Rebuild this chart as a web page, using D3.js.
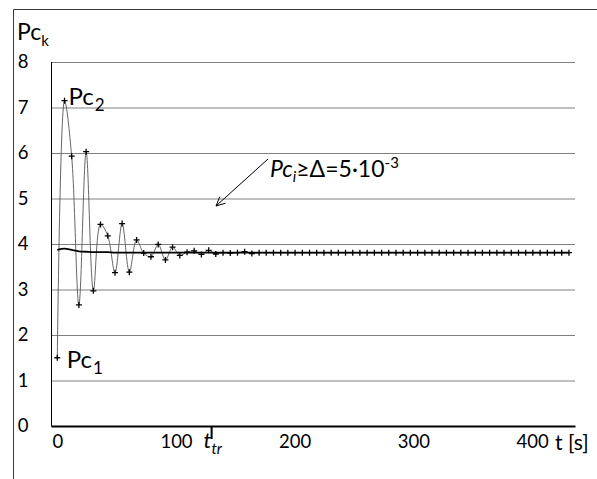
<!DOCTYPE html>
<html>
<head>
<meta charset="utf-8">
<script src="https://cdn.jsdelivr.net/npm/d3@7"></script>
<style>
  body { margin: 0; background: #fff; }
  svg { display: block; }
  text { font-family: Lato, "Open Sans", sans-serif; fill: #000; }
</style>
</head>
<body>
<svg id="chart" width="597" height="479"></svg>
<script>
// Sample times of the simulation (s)
const times = [
  0, 6.1, 12.1, 18.2, 24.3, 30.4, 36.4, 42.5, 48.6, 54.6,
  60.7, 66.8, 72.8, 78.9, 85.0, 91.1, 97.1, 103.2, 109.3, 115.3,
  121.4, 127.5, 133.5, 139.6, 145.7, 151.8, 157.8, 163.9, 170.0, 176.0,
  182.1, 188.2, 194.2, 200.3, 206.4, 212.5, 218.5, 224.6, 230.7, 236.7,
  242.8, 248.9, 254.9, 261.0, 267.1, 273.2, 279.2, 285.3, 291.4, 297.4,
  303.5, 309.6, 315.6, 321.7, 327.8, 333.9, 339.9, 346.0, 352.1, 358.1,
  364.2, 370.3, 376.3, 382.4, 388.5, 394.6, 400.6, 406.7, 412.8, 418.8,
  424.9, 431.0
];

// Pc_k at each sample
const pcValues = [
  1.50, 7.15, 5.93, 2.66, 6.03, 2.97, 4.43, 4.18, 3.37, 4.45,
  3.38, 4.09, 3.80, 3.72, 3.99, 3.65, 3.93, 3.75, 3.82, 3.85,
  3.77, 3.86, 3.78, 3.81, 3.80, 3.81, 3.83, 3.79, 3.81, 3.81,
  3.81, 3.81, 3.81, 3.81, 3.81, 3.81, 3.81, 3.81, 3.81, 3.81,
  3.81, 3.81, 3.81, 3.81, 3.81, 3.81, 3.81, 3.81, 3.81, 3.81,
  3.81, 3.81, 3.81, 3.81, 3.81, 3.81, 3.81, 3.81, 3.81, 3.81,
  3.81, 3.81, 3.81, 3.81, 3.81, 3.81, 3.81, 3.81, 3.81, 3.81,
  3.81, 3.81
];

// Smoothed level of Pc_k
const pcMean = [
  3.87, 3.90, 3.87, 3.84, 3.83, 3.82, 3.82, 3.82, 3.81, 3.81,
  3.81, 3.81, 3.81, 3.81, 3.81, 3.81, 3.81, 3.81, 3.81, 3.81,
  3.81, 3.81, 3.81, 3.81, 3.81, 3.81, 3.81, 3.81, 3.81, 3.81,
  3.81, 3.81, 3.81, 3.81, 3.81, 3.81, 3.81, 3.81, 3.81, 3.81,
  3.81, 3.81, 3.81, 3.81, 3.81, 3.81, 3.81, 3.81, 3.81, 3.81,
  3.81, 3.81, 3.81, 3.81, 3.81, 3.81, 3.81, 3.81, 3.81, 3.81,
  3.81, 3.81, 3.81, 3.81, 3.81, 3.81, 3.81, 3.81, 3.81, 3.81,
  3.81, 3.81
];

const yTicks = [0, 1, 2, 3, 4, 5, 6, 7, 8];
const xTicks = [0, 100, 200, 300, 400];
const tTransition = 130; // t_tr (s)

const svg = d3.select("#chart");
const W = 597, H = 479;
const plotL = 51, plotR = 575, plotT = 62, plotB = 426;

const x = d3.scaleLinear().domain([-5.3, 436.1]).range([plotL, plotR]);
const y = d3.scaleLinear().domain([0, 8]).range([plotB, plotT]);

svg.append("rect").attr("width", W).attr("height", H).attr("fill", "#fff");

// outer frame (left and top edges)
svg.append("path")
  .attr("d", `M13.5,${H} V9.5 H${W}`)
  .attr("fill", "none").attr("stroke", "#3a3a3a").attr("stroke-width", 1);

// horizontal grid + y labels
const yAxis = svg.append("g")
  .attr("transform", `translate(${plotL},0)`)
  .call(d3.axisLeft(y).tickValues(yTicks).tickSize(-(plotR - plotL)).tickPadding(22.5));
yAxis.select(".domain").remove();
yAxis.selectAll(".tick line").attr("stroke", "#808080").attr("stroke-width", 1);
yAxis.selectAll(".tick text")
  .attr("font-family", "Lato, sans-serif").attr("font-size", 18.5).attr("fill", "#000");

// left border of plot area
svg.append("line")
  .attr("x1", plotL + 0.5).attr("x2", plotL + 0.5)
  .attr("y1", plotT).attr("y2", plotB)
  .attr("stroke", "#000").attr("stroke-width", 1);

// x axis
const xAxis = svg.append("g")
  .attr("transform", `translate(0,${plotB})`)
  .call(d3.axisBottom(x).tickValues(xTicks).tickSize(0).tickPadding(9).tickSizeOuter(0));
xAxis.select(".domain").attr("stroke", "#000").attr("stroke-width", 2);
xAxis.selectAll(".tick text")
  .attr("font-family", "Lato, sans-serif").attr("font-size", 18.5).attr("fill", "#000");

// transition time marker
svg.append("line")
  .attr("x1", x(tTransition)).attr("x2", x(tTransition))
  .attr("y1", plotB).attr("y2", plotB + 13)
  .attr("stroke", "#000").attr("stroke-width", 2);
const ttr = svg.append("text")
  .attr("x", x(tTransition) - 8).attr("y", 448)
  .attr("font-size", 22).attr("font-style", "italic");
ttr.append("tspan").text("t");
ttr.append("tspan").attr("font-size", 15).attr("dy", 6).text("tr");

// axis titles
svg.append("text").attr("x", 555).attr("y", 450).attr("font-size", 21).text("t [s]");
const yTitle = svg.append("text").attr("x", 17).attr("y", 40).attr("font-size", 23);
yTitle.append("tspan").text("Pc");
yTitle.append("tspan").attr("font-size", 15).attr("dy", 6).text("k");

// series
const pts = times.map((t, i) => ({ t, v: pcValues[i], m: pcMean[i] }));

svg.append("path").datum(pts)
  .attr("fill", "none").attr("stroke", "#555").attr("stroke-width", 0.9)
  .attr("d", d3.line().x(d => x(d.t)).y(d => y(d.v)).curve(d3.curveCatmullRom.alpha(0.5)));

svg.append("path").datum(pts)
  .attr("fill", "none").attr("stroke", "#000").attr("stroke-width", 1.8)
  .attr("d", d3.line().x(d => x(d.t)).y(d => y(d.m)).curve(d3.curveCatmullRom.alpha(0.5)));

svg.append("g").selectAll("path").data(pts).join("path")
  .attr("transform", d => `translate(${x(d.t)},${y(d.v)})`)
  .attr("d", "M-3,0H3M0,-3V3")
  .attr("stroke", "#000").attr("stroke-width", 1.3);

// point labels
function pcLabel(i, sub, dx, dy) {
  const t = svg.append("text")
    .attr("x", x(times[i]) + dx).attr("y", y(pcValues[i]) + dy).attr("font-size", 24);
  t.append("tspan").text("Pc");
  t.append("tspan").attr("font-size", 17).attr("dy", 6).attr("dx", 1).text(sub);
}
pcLabel(1, "2", 4, 4);
pcLabel(0, "1", 9.5, 10);

// threshold annotation with arrow
const ann = svg.append("text").attr("x", 270).attr("y", 177).attr("font-size", 23);
ann.append("tspan").attr("font-style", "italic").text("Pc");
ann.append("tspan").attr("font-style", "italic").attr("font-size", 15).attr("dy", 5).text("i");
ann.append("tspan").attr("dy", -5).text("≥Δ=5·10");
ann.append("tspan").attr("font-size", 15).attr("dy", -9).text("-3");

const a0 = [268, 159], a1 = [216, 206];
const ang = Math.atan2(a1[1] - a0[1], a1[0] - a0[0]);
const headLen = 10, spread = 0.45;
svg.append("path")
  .attr("d", `M${a0[0]},${a0[1]}L${a1[0]},${a1[1]}` +
    `M${a1[0] - headLen * Math.cos(ang - spread)},${a1[1] - headLen * Math.sin(ang - spread)}` +
    `L${a1[0]},${a1[1]}` +
    `L${a1[0] - headLen * Math.cos(ang + spread)},${a1[1] - headLen * Math.sin(ang + spread)}`)
  .attr("fill", "none").attr("stroke", "#000").attr("stroke-width", 1);
</script>
</body>
</html>
